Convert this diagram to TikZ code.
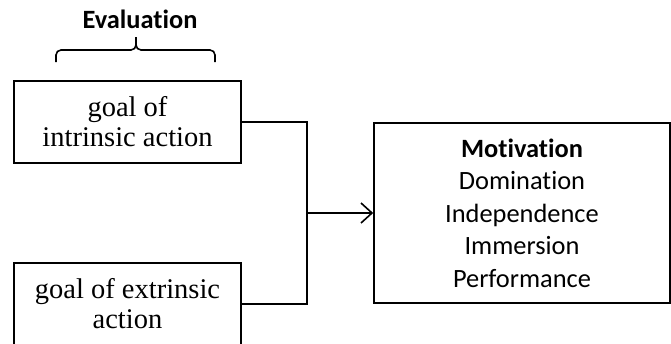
\documentclass[tikz,border=0pt]{standalone}
\usepackage{fontspec}
\newfontfamily\carlito[Ligatures={NoCommon}]{Carlito}
\newfontfamily\liberserif{Liberation Serif}
\usetikzlibrary{arrows.meta}
\tikzset{
  goalbox/.style={draw,line width=1.6pt,minimum width=227pt,minimum height=82pt,
    align=center,inner sep=0pt,font=\liberserif\fontsize{28.5}{30}\selectfont},
  motivbox/.style={draw,line width=1.6pt,minimum width=296pt,minimum height=180pt,
    align=center,inner sep=0pt,font=\carlito\fontsize{26.4}{32.5}\selectfont}
}
\begin{document}
\begin{tikzpicture}[x=1pt,y=-1pt,line width=1.6pt]
      \useasboundingbox (0,0) rectangle (671,343);
      \node[anchor=base,font=\carlito\bfseries\fontsize{26.4}{30}\selectfont] (eval) at (140,28) {Evaluation};
      \draw[rounded corners=5pt] (56,62) -- (56,50) -- (136,50) -- (136,37);
      \draw[rounded corners=5pt] (215,62) -- (215,50) -- (136,50) -- (136,37);
      \node[goalbox] (intr) at (127.5,122) {goal of\\intrinsic action};
      \node[goalbox] (extr) at (127.5,304) {goal of extrinsic\\action};
      \node[motivbox] (motiv) at (522,213) {\textbf{Motivation}\\Domination\\Independence\\Immersion\\Performance};
      \coordinate (join) at (307,213);
      \draw (intr.east) -| (join);
      \draw (extr.east) -| (join);
      \draw[-{Straight Barb[length=11pt,width=20pt]}] (join) -- (motiv.west);
    \end{tikzpicture}
\end{document}
